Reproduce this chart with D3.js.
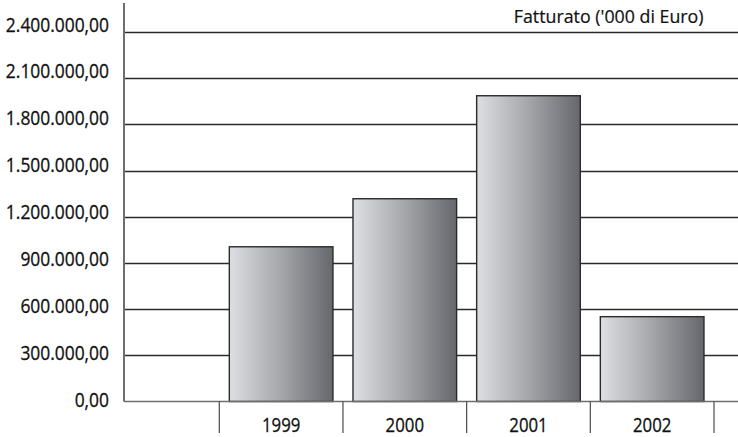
<!DOCTYPE html>
<html><head><meta charset="utf-8">
<script src="https://cdn.jsdelivr.net/npm/d3@7"></script>
<style>body{margin:0;background:#fff}svg{display:block}text{font-family:"Open Sans",sans-serif}</style>
</head><body><svg id="c" width="738" height="437"></svg>
<script>
const categories = ["1999", "2000", "2001", "2002"];
const values = [1005000, 1317000, 1986000, 551000];
const yTicks = [0, 300000, 600000, 900000, 1200000, 1500000, 1800000, 2100000, 2400000];
const title = "Fatturato ('000 di Euro)";

(function () {
const svg = d3.select("#c");
const W = 738;
const axisX = 124, base = 401.5, plotTop = 32;
const y = d3.scaleLinear().domain([0, 2400000]).range([base, plotTop]);
const yLab = d3.scaleLinear().domain([0, 2400000]).range([400, 24.5]);
const x = d3.scaleBand().domain(categories).range([219.3, 714]).paddingInner(0.162).paddingOuter(0.081);
const fmt = v => d3.format(",.2f")(v).replace(/,/g, "#").replace(/\./g, ",").replace(/#/g, ".");
const SX = 0.87;

const defs = svg.append("defs");
const g = defs.append("linearGradient").attr("id", "bg").attr("x1", 0).attr("x2", 1).attr("y1", 0).attr("y2", 0);
g.append("stop").attr("offset", "0%").attr("stop-color", "#dedfe2");
g.append("stop").attr("offset", "50%").attr("stop-color", "#a5a6aa");
g.append("stop").attr("offset", "100%").attr("stop-color", "#66676c");

// gridlines
svg.append("g").selectAll("line").data(yTicks.filter(d => d > 0)).join("line")
  .attr("x1", axisX).attr("x2", W).attr("y1", d => Math.round(y(d)) + 0.5).attr("y2", d => Math.round(y(d)) + 0.5)
  .attr("stroke", "#2a2a2a").attr("stroke-width", 1.3);

// bars
svg.append("g").selectAll("rect").data(values).join("rect")
  .attr("x", (d, i) => x(categories[i])).attr("width", x.bandwidth())
  .attr("y", d => y(d)).attr("height", d => base - y(d))
  .attr("fill", "url(#bg)").attr("stroke", "#2b2b2b").attr("stroke-width", 1.4);

// baseline and axis
svg.append("line").attr("x1", axisX).attr("x2", W).attr("y1", base).attr("y2", base).attr("stroke", "#6e6e6e").attr("stroke-width", 1.6);
svg.append("line").attr("x1", axisX).attr("x2", axisX).attr("y1", 3).attr("y2", base).attr("stroke", "#6e6e6e").attr("stroke-width", 2);

// category dividers
const step = x.step();
const bounds = categories.map(c => x(c) - x.paddingInner() * step / 2).concat([x(categories[3]) + x.bandwidth() + x.paddingInner() * step / 2]);
svg.append("g").selectAll("line").data(bounds).join("line")
  .attr("x1", d => d).attr("x2", d => d).attr("y1", base).attr("y2", 433)
  .attr("stroke", "#4a4a4a").attr("stroke-width", 1.2);

// y labels
svg.append("g").selectAll("text").data(yTicks).join("text")
  .attr("transform", d => `translate(109,${yLab(d)}) scale(${SX},1)`)
  .attr("dy", "0.35em").attr("text-anchor", "end")
  .attr("font-size", 20).attr("fill", "#111").attr("stroke", "#111").attr("stroke-width", 0.3).text(fmt);

// x labels
svg.append("g").selectAll("text").data(categories).join("text")
  .attr("transform", d => `translate(${x(d) + x.bandwidth() / 2},425) scale(0.84,1)`)
  .attr("dy", "0.35em").attr("text-anchor", "middle")
  .attr("font-size", 20).attr("fill", "#111").attr("stroke", "#111").attr("stroke-width", 0.3).text(d => d);

svg.append("text").attr("x", 703.5).attr("y", 22.7).attr("text-anchor", "end")
  .attr("font-size", 17.8).attr("fill", "#111").attr("stroke", "#111").attr("stroke-width", 0.2).text(title);
})();
</script></body></html>
